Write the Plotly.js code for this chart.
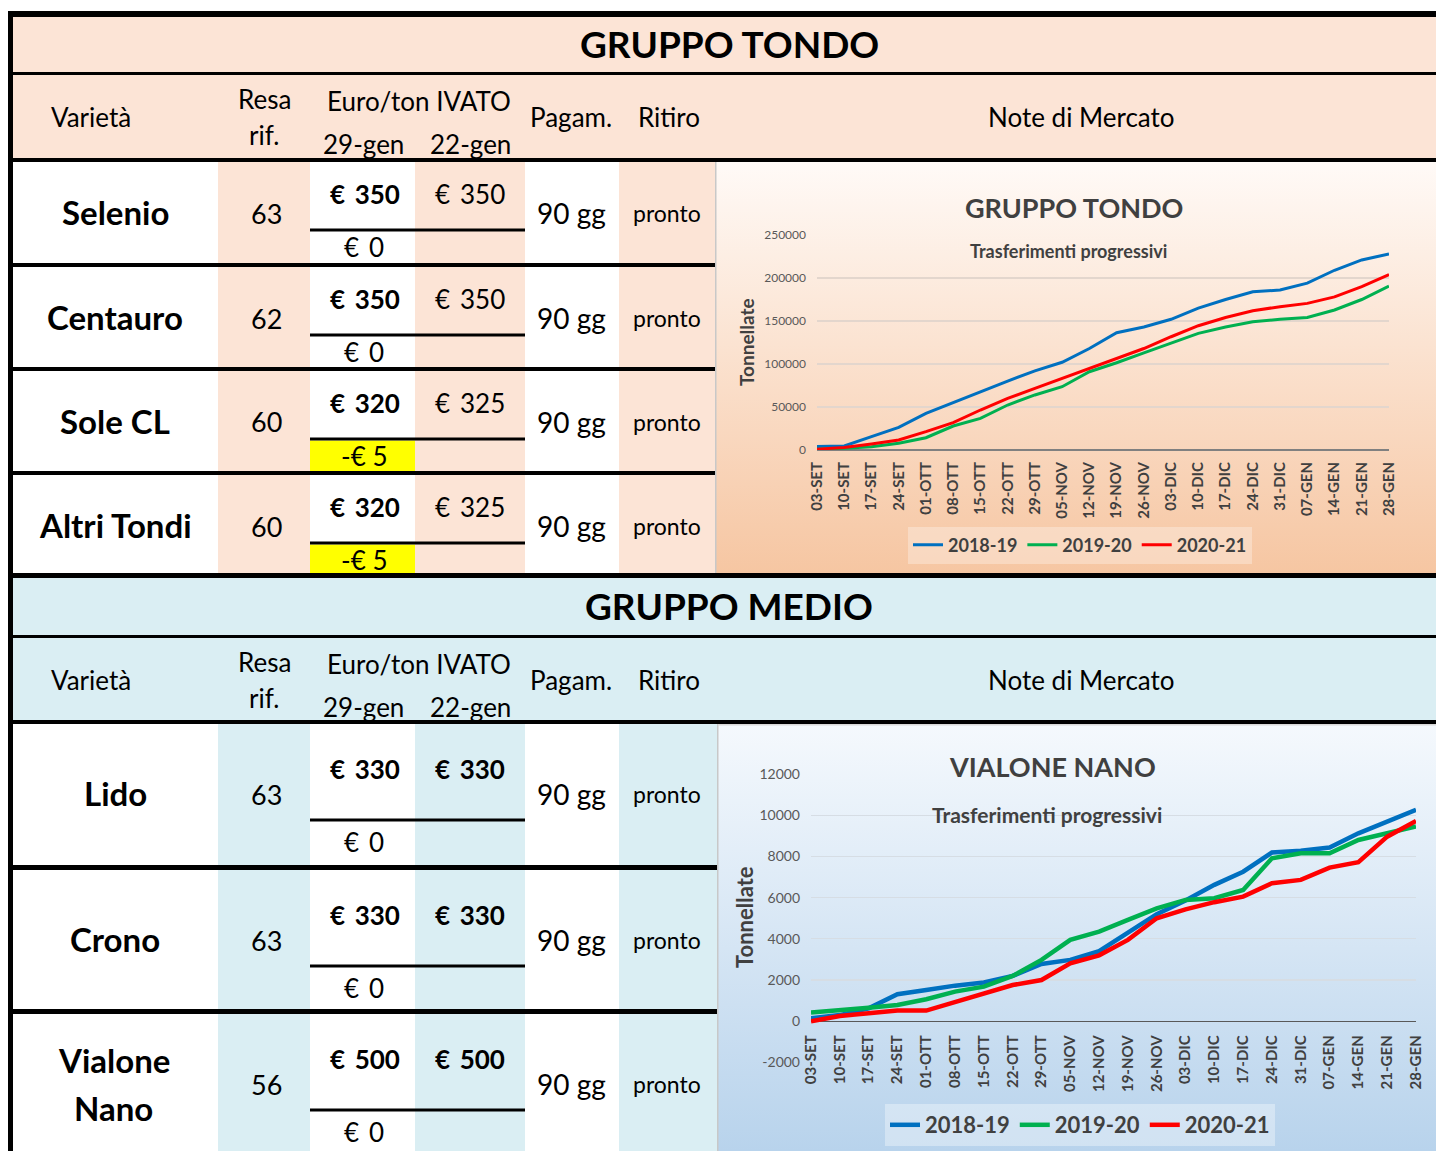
<!DOCTYPE html>
<html><head><meta charset="utf-8">
<script src="https://cdn.plot.ly/plotly-3.0.1.min.js"></script>
<style>html,body{margin:0;padding:0;background:#fff;} #chart{width:1436px;height:1151px;}</style>
</head><body><div id="chart"></div>
<script>
// ------------------ DATA ------------------
const settimane = ['03-SET','10-SET','17-SET','24-SET','01-OTT','08-OTT','15-OTT','22-OTT','29-OTT','05-NOV','12-NOV','19-NOV','26-NOV','03-DIC','10-DIC','17-DIC','24-DIC','31-DIC','07-GEN','14-GEN','21-GEN','28-GEN'];
const stagioni = ['2018-19','2019-20','2020-21'];
const coloriStagioni = ['#0070C0','#00B050','#FF0000'];

const tondo1819 = [4000,4600,15500,26400,42600,55400,67800,80200,92000,102000,118000,136400,143000,152000,165000,175000,184000,186000,194000,209000,221000,228000];
const tondo1920 = [1000,2000,3900,7800,14300,27900,36800,52300,64000,73600,91000,101500,113000,124700,135600,143000,149000,152000,154000,162800,175000,190500];
const tondo2021 = [1000,3000,7000,11600,21300,31800,46500,60000,71700,83300,94000,105800,118000,131700,144500,154000,162000,166600,170500,178000,190000,204000];
const tondoTickVals = [0,50000,100000,150000,200000,250000];
const tondoTickText = ['0','50000','100000','150000','200000','250000'];

const vialone1819 = [150,300,630,1310,1520,1730,1880,2200,2780,2980,3400,4300,5200,5860,6620,7260,8190,8270,8430,9120,9690,10260];
const vialone1920 = [420,520,660,790,1070,1440,1680,2200,2980,3950,4350,4920,5480,5890,5970,6370,7910,8150,8150,8800,9120,9450];
const vialone2021 = [0,260,390,520,520,950,1360,1760,2000,2810,3200,3950,5000,5430,5780,6050,6700,6860,7460,7720,8960,9720];
const vialoneTickVals = [-2000,0,2000,4000,6000,8000,10000,12000];
const vialoneTickText = ['-2000','0','2000','4000','6000','8000','10000','12000'];

const gruppi = ['GRUPPO TONDO','GRUPPO MEDIO'];
const titoliGrafici = ['GRUPPO TONDO','VIALONE NANO'];
const sottotitolo = 'Trasferimenti progressivi';
const titoloAsseY = 'Tonnellate';
const intestazioni = ['Varietà','Resa','rif.','Euro/ton IVATO','29-gen','22-gen','Pagam.','Ritiro','Note di Mercato'];

const tondoVarieta = ['Selenio','Centauro','Sole CL','Altri Tondi'];
const tondoResa = [63,62,60,60];
const tondoPrezzo29 = [350,350,320,320];
const tondoPrezzo22 = [350,350,325,325];
const tondoVariazione = [0,0,-5,-5];
const tondoPagam = ['90 gg','90 gg','90 gg','90 gg'];
const tondoRitiro = ['pronto','pronto','pronto','pronto'];

const medioVarieta = ['Lido','Crono','Vialone<br>Nano'];
const medioResa = [63,63,56];
const medioPrezzo29 = [330,330,500];
const medioPrezzo22 = [330,330,500];
const medioVariazione = [0,0,0];
const medioPagam = ['90 gg','90 gg','90 gg'];
const medioRitiro = ['pronto','pronto','pronto'];

// ------------------ GEOMETRY / HELPERS ------------------
const W = 1436, H = 1151;
const FONT = 'Lato, "Open Sans", sans-serif';
const px = x => x / W;
const py = y => 1 - y / H;
const shapes = [], annotations = [], images = [];

function rect(x0, y0, x1, y1, color, layer) {
  shapes.push({type:'rect', xref:'paper', yref:'paper', x0:px(x0), x1:px(x1), y0:py(y1), y1:py(y0),
    fillcolor:color, line:{width:0}, layer: layer || 'below'});
}
function bar(x0, y0, x1, y1) { rect(x0, y0, x1, y1, '#000000', 'above'); }
function txt(x, y, text, size, bold, color, angle) {
  annotations.push({xref:'paper', yref:'paper', x:px(x), y:py(y), text: bold ? '<b>' + text + '</b>' : text,
    showarrow:false, xanchor:'center', yanchor:'middle', textangle: angle || 0,
    font:{family:FONT, size:size, color: color || '#000000'}});
}
function grad(x0, y0, x1, y1, c0, c1) {
  const svg = '<svg xmlns="http://www.w3.org/2000/svg" width="10" height="100" preserveAspectRatio="none">' +
    '<defs><linearGradient id="g" x1="0" y1="0" x2="0" y2="1"><stop offset="0" stop-color="' + c0 + '"/>' +
    '<stop offset="1" stop-color="' + c1 + '"/></linearGradient></defs><rect width="10" height="100" fill="url(#g)"/></svg>';
  images.push({source:'data:image/svg+xml;charset=utf-8,' + encodeURIComponent(svg), xref:'paper', yref:'paper',
    x:px(x0), y:py(y0), sizex:(x1 - x0) / W, sizey:(y1 - y0) / H, xanchor:'left', yanchor:'top',
    sizing:'stretch', layer:'below'});
}
const euro = v => v < 0 ? '-€ ' + (-v) : '€\u2009 ' + v;

const groupsGeom = [
  {titleTop:17, titleBot:72, hdrTop:75, hdrBot:158, dataTop:162, dataBot:573, chartX:716,
   rows:[[162,264],[267,368],[371,472],[475,573]], shade:'#FCE4D6', bold22:false,
   priceOff:33, subOff:68, zeroOff:85, nameOff:51,
   names:tondoVarieta, resa:tondoResa, p29:tondoPrezzo29, p22:tondoPrezzo22, diff:tondoVariazione,
   pag:tondoPagam, rit:tondoRitiro},
  {titleTop:578, titleBot:635, hdrTop:638, hdrBot:720, dataTop:724, dataBot:1151, chartX:718,
   rows:[[724,866],[870,1010],[1014,1151]], shade:'#DAEEF3', bold22:true,
   priceOff:46, subOff:96, zeroOff:118, nameOff:70,
   names:medioVarieta, resa:medioResa, p29:medioPrezzo29, p22:medioPrezzo22, diff:medioVariazione,
   pag:medioPagam, rit:medioRitiro}
];

// chart backgrounds
grad(716, 162, 1436, 573, '#FFFAF7', '#F6C6A2');
grad(718, 724, 1436, 1151, '#F5F9FD', '#B8D3EC');

groupsGeom.forEach((g, gi) => {
  rect(13, g.titleTop, 1436, g.hdrBot, g.shade);
  txt(729, (g.titleTop + g.titleBot) / 2 - 1, gruppi[gi], 37, true);
  const h = g.hdrTop;
  txt(91, h + 42, intestazioni[0], 26);
  txt(264, h + 24, intestazioni[1], 26);
  txt(264, h + 60, intestazioni[2], 26);
  txt(419, h + 26, intestazioni[3], 26);
  txt(363, h + 69, intestazioni[4], 26);
  txt(470, h + 69, intestazioni[5], 26);
  txt(571, h + 42, intestazioni[6], 26);
  txt(669, h + 42, intestazioni[7], 26);
  txt(1081, h + 42, intestazioni[8], 26);
  rect(218, g.dataTop, 310, g.dataBot, g.shade);
  rect(415, g.dataTop, 525, g.dataBot, g.shade);
  rect(619, g.dataTop, g.chartX, g.dataBot, g.shade);
  g.rows.forEach((r, i) => {
    const top = r[0], bot = r[1];
    const nameY = top + g.nameOff;
    const lines = g.names[i].split('<br>');
    if (lines.length === 1) txt(115, nameY - 1, lines[0], 33, true);
    else { txt(114, nameY - 24, lines[0], 33, true); txt(114, nameY + 24, lines[1], 33, true); }
    txt(266, nameY, String(g.resa[i]), 27);
    txt(365, top + g.priceOff - 1, euro(g.p29[i]), 26, true);
    txt(470, top + g.priceOff - 1, euro(g.p22[i]), 26, g.bold22);
    const sub = top + g.subOff;
    bar(310, sub - 1.5, 525, sub + 1.5);
    if (g.diff[i] !== 0) rect(310, sub + 1.5, 415, bot, '#FFFF00');
    txt(364, top + g.zeroOff, euro(g.diff[i]), 26);
    txt(571, nameY, g.pag[i], 28);
    txt(667, nameY, g.rit[i], 23);
    if (i < g.rows.length - 1) bar(13, bot - 1, g.chartX, g.rows[i + 1][0]);
  });
  bar(13, g.titleBot, 1436, g.hdrTop);
  bar(13, g.hdrBot, 1436, g.dataTop);
});
bar(8, 11, 1436, 17);
bar(8, 11, 13, 1151);
bar(8, 573, 1436, 578);
rect(715, 162, 716.5, 573, '#C8C8C8', 'above');
rect(717, 724, 718.5, 1151, '#C8C8C8', 'above');
rect(718, 724, 1436, 725.5, '#D8D8D8', 'above');

txt(1074, 207, titoliGrafici[0], 27, true, '#404040');
txt(1068, 251, sottotitolo, 18, true, '#404040');
txt(746, 342, titoloAsseY, 19, true, '#404040', -90);
txt(1052, 766, titoliGrafici[1], 27, true, '#404040');
txt(1047, 814, sottotitolo, 21, true, '#404040');
txt(744, 917, titoloAsseY, 22, true, '#404040', -90);

// ------------------ TRACES ------------------
const tondoSerie = [tondo1819, tondo1920, tondo2021];
const vialoneSerie = [vialone1819, vialone1920, vialone2021];
const traces = [];
tondoSerie.forEach((s, i) => traces.push({type:'scatter', mode:'lines', x:settimane, y:s, name:stagioni[i],
  xaxis:'x', yaxis:'y', legend:'legend', line:{color:coloriStagioni[i], width:3}, hoverinfo:'skip'}));
vialoneSerie.forEach((s, i) => traces.push({type:'scatter', mode:'lines', x:settimane, y:s, name:stagioni[i],
  xaxis:'x2', yaxis:'y2', legend:'legend2', line:{color:coloriStagioni[i], width:4.5}, hoverinfo:'skip'}));

const layout = {
  width:W, height:H, margin:{l:0, r:0, t:0, b:0, pad:0},
  paper_bgcolor:'#FFFFFF', plot_bgcolor:'rgba(0,0,0,0)',
  font:{family:FONT, color:'#404040'},
  hovermode:false, showlegend:true,
  shapes:shapes, annotations:annotations, images:images,
  xaxis:{domain:[px(817), px(1389)], anchor:'y', type:'category', range:[0,21], showgrid:false, zeroline:false,
    showline:false, ticks:'', tickangle:-90, ticklabelstandoff:8,
    tickfont:{family:FONT, size:15, color:'#404040', weight:'bold'}, fixedrange:true},
  yaxis:{domain:[py(450), py(235)], anchor:'x', range:[0,250000], tickvals:tondoTickVals, ticktext:tondoTickText,
    showgrid:true, gridcolor:'#E3D6CD', gridwidth:1.2, zeroline:true, zerolinecolor:'#808080', zerolinewidth:1.5,
    showline:false, ticks:'', ticklabelstandoff:10, tickfont:{family:FONT, size:12, color:'#595959'}, fixedrange:true},
  xaxis2:{domain:[px(811), px(1416)], anchor:'free', position:py(1021.3), type:'category', range:[0,21],
    showgrid:false, zeroline:false, showline:false, ticks:'', tickangle:-90, ticklabelstandoff:10,
    tickfont:{family:FONT, size:15, color:'#404040', weight:'bold'}, fixedrange:true},
  yaxis2:{domain:[py(1062.5), py(774)], anchor:'x2', range:[-2000,12000], tickvals:vialoneTickVals, ticktext:vialoneTickText,
    showgrid:true, gridcolor:'#D6DDE4', gridwidth:1.2, zeroline:true, zerolinecolor:'#595959', zerolinewidth:1.5,
    showline:false, ticks:'', ticklabelstandoff:10, tickfont:{family:FONT, size:14, color:'#595959'}, fixedrange:true},
  legend:{orientation:'h', x:px(1080), xanchor:'center', y:py(545), yanchor:'middle',
    bgcolor:'rgba(255,255,255,0.3)', font:{family:FONT, size:18, color:'#404040', weight:'bold'},
    itemwidth:30},
  legend2:{orientation:'h', x:px(1080), xanchor:'center', y:py(1125), yanchor:'middle',
    bgcolor:'rgba(255,255,255,0.35)', font:{family:FONT, size:22, color:'#404040', weight:'bold'},
    itemwidth:30}
};

Plotly.newPlot('chart', traces, layout, {displayModeBar:false, staticPlot:true});
</script></body></html>
